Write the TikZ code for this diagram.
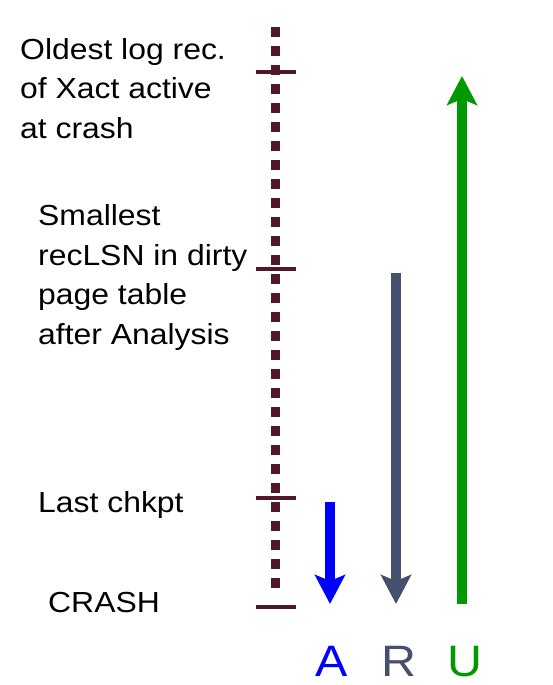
\documentclass[tikz,border=0pt]{standalone}
\usepackage{fontspec}
\setmainfont{Liberation Sans}[FakeStretch=1.1]
\usetikzlibrary{arrows.meta}
\definecolor{logline}{RGB}{80,24,40}
\definecolor{redocol}{RGB}{68,80,110}
\definecolor{undocol}{RGB}{0,153,0}

\begin{document}
\begin{tikzpicture}[x=1pt,y=-1pt,
  lbl/.style={anchor=base west,inner sep=0pt,align=left,font=\fontsize{29}{39.5}\selectfont},
  tick/.style={draw=logline,line width=4pt},
  pass/.style={line width=10pt,-{Stealth[length=29pt,width=30pt,inset=6pt]}},
  passname/.style={anchor=base,inner sep=0pt,font=\fontsize{44}{44}\selectfont}]
  \useasboundingbox (0,0) rectangle (553,685);
  % the log
  \draw[logline,line width=9pt,dash pattern=on 10pt off 9pt] (275,27) -- (275,594);
  \foreach \name/\y in {oldest/72,reclsn/269,chkpt/498,crash/607}
    \draw[tick] (256,\y) -- (296,\y) coordinate[midway] (\name);
  % labels of the log (base = last line)
  \node[lbl] (oldestlbl) at (20,138) {Oldest log rec.\\of Xact active\\at crash};
  \node[lbl] (reclsnlbl) at (38,344) {Smallest\\recLSN in dirty\\page table\\after Analysis};
  \node[lbl] (chkptlbl) at (38,512) {Last chkpt};
  \node[lbl] (crashlbl) at (48,612) {CRASH};
  % the three passes
  \node[passname,text=blue] (A) at (332,676) {A};
  \node[passname,text=redocol] (R) at (399,676) {R};
  \node[passname,text=undocol] (U) at (465,676) {U};
  \coordinate (astart) at (330,502);
  \coordinate (aend) at (330,604);
  \coordinate (rstart) at (396,273);
  \coordinate (rend) at (396,604);
  \coordinate (ustart) at (462,604);
  \coordinate (uend) at (462,76);
  \draw[pass,blue] (astart) -- (aend);
  \draw[pass,redocol] (rstart) -- (rend);
  \draw[pass,undocol] (ustart) -- (uend);
\end{tikzpicture}
\end{document}
